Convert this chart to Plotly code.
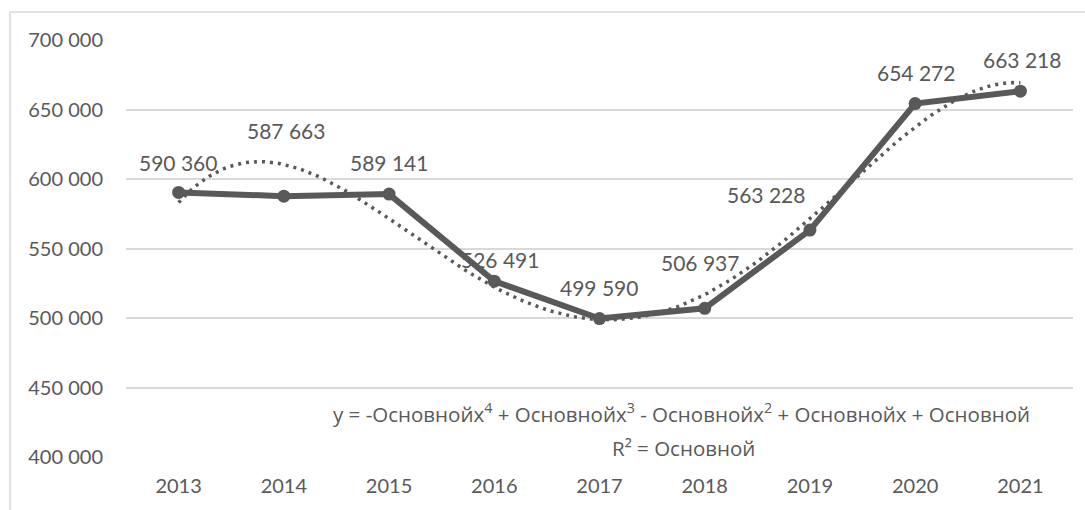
import numpy as np
import plotly.graph_objects as go

years = ["2013", "2014", "2015", "2016", "2017", "2018", "2019", "2020", "2021"]
values = [590360, 587663, 589141, 526491, 499590, 506937, 563228, 654272, 663218]
label_texts = ["590 360", "587 663", "589 141", "526 491", "499 590",
               "506 937", "563 228", "654 272", "663 218"]
y_ticks = [400000, 450000, 500000, 550000, 600000, 650000, 700000]
y_tick_labels = ["400 000", "450 000", "500 000", "550 000", "600 000", "650 000", "700 000"]

# label offsets (pixels) relative to each point
label_dx = [-1, 2, 0, 6, -1, -5, -44, 1, 2]
label_dy = [30, 66, 32, 22, 31, 46, 36, 31, 32]

FONT = "Lato"
EQ_FONT = "Open Sans"
GREY = "#595959"

idx = np.arange(len(years))
# Excel-style polynomial (order 4) trendline fitted to the series
coef = np.polyfit(idx, values, 4)
xt = np.linspace(0, len(years) - 1, 200)
yt = np.polyval(coef, xt)

fig = go.Figure()
fig.add_trace(go.Scatter(
    x=xt, y=yt, mode="lines",
    line=dict(color=GREY, width=3.5, dash="3px,5px"),
    hoverinfo="skip", showlegend=False,
))
fig.add_trace(go.Scatter(
    x=idx, y=values, mode="lines+markers",
    line=dict(color=GREY, width=6),
    marker=dict(color=GREY, size=13),
    showlegend=False,
))

for i, (v, t) in enumerate(zip(values, label_texts)):
    fig.add_annotation(x=i, y=v, text=t, showarrow=False,
                       xshift=label_dx[i], yshift=label_dy[i],
                       font=dict(family=FONT, size=21, color=GREY))

fig.add_annotation(xref="paper", yref="paper", x=0.587, y=0.1055,
                   text="y = -Основнойx<sup>4</sup> + Основнойx<sup>3</sup> - Основнойx<sup>2</sup> + Основнойx + Основной",
                   showarrow=False, xanchor="center", yanchor="middle",
                   font=dict(family=EQ_FONT, size=20.5, color=GREY))
fig.add_annotation(xref="paper", yref="paper", x=0.589, y=0.0216,
                   text="R² = Основной",
                   showarrow=False, xanchor="center", yanchor="middle",
                   font=dict(family=EQ_FONT, size=20.5, color=GREY))

# chart border (light grey frame)
fig.add_shape(type="rect", xref="paper", yref="paper",
              x0=-0.1225, x1=1.2, y0=-0.3, y1=1.067,
              line=dict(color="#d9d9d9", width=1.5), layer="below")

fig.update_layout(
    width=1085, height=510,
    margin=dict(l=126, r=12, t=40, b=53),
    paper_bgcolor="white", plot_bgcolor="white",
    font=dict(family=FONT, size=20, color=GREY),
    xaxis=dict(
        tickmode="array", tickvals=list(idx), ticktext=years,
        range=[-0.5, len(years) - 0.5],
        showgrid=False, zeroline=False, showline=False,
        ticks="", tickfont=dict(family=FONT, size=20, color=GREY),
        ticklabelstandoff=15,
    ),
    yaxis=dict(
        tickmode="array", tickvals=y_ticks, ticktext=y_tick_labels,
        range=[400000, 700000],
        showgrid=True, gridcolor="#d9d9d9", gridwidth=1.5,
        zeroline=False, showline=False, ticks="",
        tickfont=dict(family=FONT, size=20, color=GREY),
        ticklabelstandoff=22,
    ),
)

fig.write_html("out.html")
